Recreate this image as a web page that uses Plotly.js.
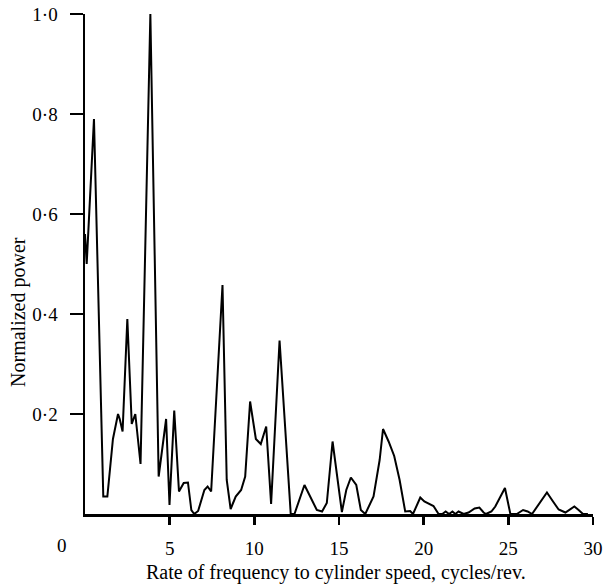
<!DOCTYPE html>
<html>
<head>
<meta charset="utf-8">
<script src="https://cdn.plot.ly/plotly-3.0.1.min.js"></script>
<style>html,body{margin:0;padding:0;background:#fff;}#chart{width:603px;height:587px;}</style>
</head>
<body>
<div id="chart"></div>
<script>
// Rate of frequency to cylinder speed (cycles/rev.)
var freq = [0.00,0.10,0.53,1.08,1.32,1.65,1.95,2.05,2.22,2.50,2.76,2.97,3.28,3.86,4.35,4.79,4.99,5.27,5.55,5.83,6.08,6.28,6.45,6.68,7.05,7.24,7.45,8.12,8.37,8.60,8.90,9.22,9.46,9.75,10.09,10.38,10.70,10.99,11.49,12.15,12.37,12.96,13.69,14.00,14.28,14.62,15.17,15.43,15.70,16.02,16.29,16.55,17.04,17.40,17.60,17.93,18.26,18.58,18.91,19.20,19.37,19.80,20.04,20.40,20.58,20.88,21.10,21.30,21.50,21.70,21.87,22.06,22.36,22.65,23.01,23.29,23.54,23.68,24.00,24.23,24.80,25.12,25.50,25.87,26.14,26.40,26.90,27.28,27.64,27.97,28.37,28.90,29.15,29.41,29.70];
// Normalized power
var power = [0.56,0.50,0.79,0.035,0.035,0.15,0.20,0.19,0.165,0.39,0.18,0.20,0.10,1.00,0.075,0.19,0.018,0.207,0.045,0.062,0.063,0.008,0.0,0.006,0.048,0.055,0.045,0.458,0.068,0.01,0.035,0.048,0.075,0.225,0.15,0.14,0.175,0.02,0.347,0.0,0.0,0.058,0.008,0.005,0.022,0.145,0.004,0.048,0.073,0.058,0.008,0.0,0.035,0.108,0.17,0.145,0.116,0.068,0.005,0.006,0.0,0.033,0.025,0.02,0.016,0.0,0.0,0.005,0.0,0.005,0.0,0.005,0.0,0.003,0.011,0.013,0.003,0.0,0.005,0.015,0.052,0.0,0.0,0.008,0.005,0.0,0.025,0.043,0.025,0.009,0.003,0.015,0.008,0.0,0.0];

var xTickVals = [5,10,15,20,25,30];
var xTickText = ['5','10','15','20','25','30'];
var yTickVals = [0.2,0.4,0.6,0.8,1.0];
var yTickText = ['0·2','0·4','0·6','0·8','1·0'];

var serif = 'Liberation Serif, Times New Roman, serif';

var trace = {
  x: freq, y: power, type: 'scatter', mode: 'lines',
  line: {color: '#000', width: 2},
  cliponaxis: false, hoverinfo: 'skip'
};

var layout = {
  width: 603, height: 587,
  margin: {l: 85, r: 10, t: 14, b: 73},
  paper_bgcolor: '#fff', plot_bgcolor: '#fff',
  showlegend: false,
  font: {family: serif, color: '#000', size: 19},
  xaxis: {
    range: [0, 30], showgrid: false, zeroline: false,
    showline: true, linecolor: '#000', linewidth: 2.5,
    ticks: 'outside', ticklen: 8, tickwidth: 2.5, tickcolor: '#000',
    tickmode: 'array', tickvals: xTickVals, ticktext: xTickText,
    ticklabelstandoff: 8,
    tickfont: {family: serif, size: 19, color: '#000'}
  },
  yaxis: {
    range: [0, 1.0], showgrid: false, zeroline: false,
    showline: true, linecolor: '#000', linewidth: 2.5,
    ticks: 'outside', ticklen: 13, tickwidth: 2.5, tickcolor: '#000',
    tickmode: 'array', tickvals: yTickVals, ticktext: yTickText,
    ticklabelstandoff: 8,
    tickfont: {family: serif, size: 19, color: '#000'}
  },
  annotations: [
    {xref: 'paper', yref: 'paper', x: -0.045, y: -0.062, text: '0', showarrow: false,
     xanchor: 'center', yanchor: 'middle', font: {family: serif, size: 19, color: '#000'}},
    {xref: 'paper', yref: 'paper', x: 0.495, y: -0.118, text: 'Rate of frequency to cylinder speed, cycles/rev.',
     showarrow: false, xanchor: 'center', yanchor: 'middle', font: {family: serif, size: 20, color: '#000'}},
    {xref: 'paper', yref: 'paper', x: -0.132, y: 0.404, text: 'Normalized power', textangle: -90,
     showarrow: false, xanchor: 'center', yanchor: 'middle', font: {family: serif, size: 20, color: '#000'}}
  ]
};

Plotly.newPlot('chart', [trace], layout, {staticPlot: true, displayModeBar: false});
</script>
</body>
</html>
